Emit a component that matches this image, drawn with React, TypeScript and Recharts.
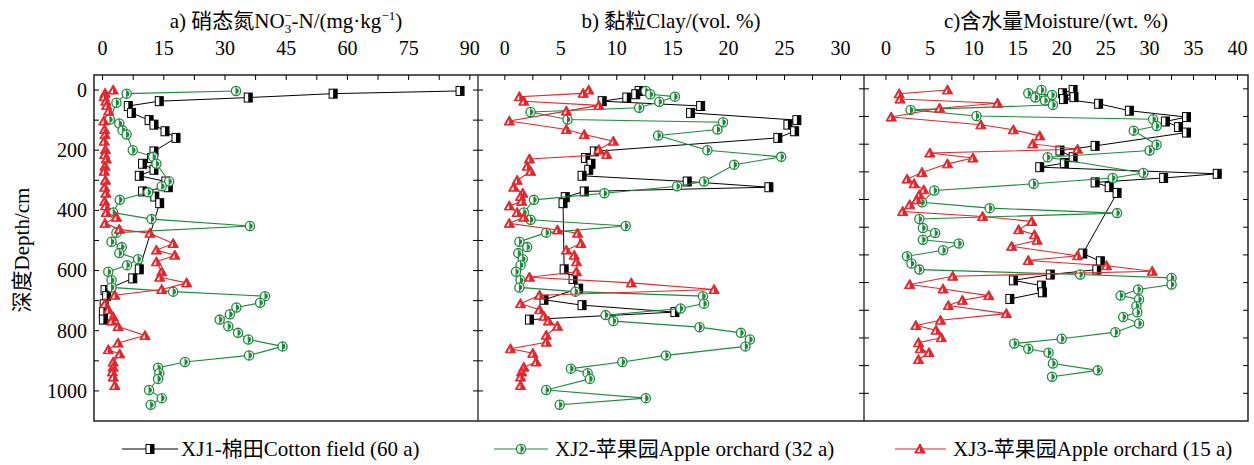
import React from 'react';
import { ScatterChart, Scatter, XAxis, YAxis } from 'recharts';

const FONT = "'Liberation Serif','Times New Roman','Noto Sans CJK SC',serif";
const BLACK = '#000000';
const GREEN = '#1c8a3c';
const RED = '#e6252c';

const W = 1254;
const H = 465;
const PLOT_TOP = 75;
const PLOT_BOTTOM = 421;
const TICK_LEN = 5;
const X_LABEL_Y = 55;
const TITLE_Y = 28;

// ---------- Panel a: NO3-N (mg/kg) ----------
const aXJ1Depth = [3, 12, 25, 37, 53, 76, 100, 115, 137, 159, 204, 226, 245, 265, 285, 304, 323, 337, 354, 376, 596, 626, 665, 685, 712, 738, 763];
const aXJ1 = [87.6, 56.5, 35.7, 13.9, 6.3, 7.1, 11.4, 12.6, 15.3, 18.0, 12.6, 12.0, 9.8, 12.6, 9.0, 15.5, 16.1, 9.8, 12.8, 14.0, 9.0, 7.4, 0.6, 1.0, 0.4, 0.2, 0.2];
const aXJ2Depth = [3, 12, 42, 98, 111, 134, 148, 200, 222, 245, 304, 320, 340, 365, 407, 429, 452, 474, 504, 522, 542, 562, 582, 604, 632, 656, 670, 685, 707, 723, 745, 763, 785, 807, 829, 852, 882, 904, 923, 941, 960, 997, 1024, 1046];
const aXJ2 = [32.7, 5.9, 3.4, 1.8, 4.1, 4.9, 5.9, 7.4, 12.4, 13.2, 16.3, 14.5, 11.2, 4.2, 2.6, 12.0, 36.1, 3.4, 2.2, 4.7, 4.1, 8.7, 6.0, 1.4, 2.2, 2.2, 17.3, 39.8, 38.6, 32.8, 31.2, 28.7, 30.8, 33.2, 35.7, 44.1, 35.9, 20.2, 13.6, 13.9, 13.6, 11.4, 14.5, 11.8];
const aXJ3Depth = [0, 11, 22, 37, 51, 70, 103, 131, 148, 170, 198, 214, 229, 253, 270, 300, 323, 343, 370, 385, 407, 423, 443, 463, 476, 510, 532, 549, 571, 604, 622, 641, 663, 682, 710, 730, 754, 768, 786, 816, 841, 863, 877, 904, 921, 937, 954, 982];
const aXJ3 = [2.6, 0.6, 0.4, 0.8, 1.0, 1.5, 0.3, 0.5, 0.6, 0.4, 0.7, 0.5, 0.9, 0.6, 0.4, 0.7, 0.5, 0.8, 0.5, 0.7, 0.9, 3.4, 0.6, 4.1, 11.6, 17.3, 13.2, 17.7, 13.2, 14.5, 14.0, 20.6, 14.5, 3.0, 0.6, 1.4, 2.6, 2.2, 3.8, 10.4, 3.8, 1.4, 4.2, 2.6, 2.6, 2.4, 2.6, 3.0];

// ---------- Panel b: Clay (vol. %) ----------
const bXJ1Depth = [3, 14, 25, 37, 53, 76, 100, 115, 137, 159, 204, 226, 245, 265, 285, 304, 323, 337, 356, 376, 596, 628, 660, 697, 715, 738, 763];
const bXJ1 = [12.0, 11.7, 10.9, 8.7, 17.5, 16.6, 26.1, 25.3, 25.9, 24.4, 8.0, 7.2, 7.7, 7.5, 6.9, 16.3, 23.6, 7.1, 5.4, 5.2, 5.3, 6.1, 6.6, 3.5, 6.9, 15.2, 2.2];
const bXJ2Depth = [3, 14, 22, 39, 59, 73, 98, 107, 131, 151, 200, 222, 248, 304, 320, 343, 365, 407, 431, 452, 474, 504, 522, 542, 562, 582, 604, 632, 656, 670, 685, 710, 726, 748, 768, 788, 807, 829, 852, 882, 904, 926, 941, 960, 997, 1024, 1046];
const bXJ2 = [12.6, 13.0, 15.2, 13.8, 12.0, 2.3, 5.6, 19.5, 19.0, 13.7, 18.1, 24.7, 20.5, 17.8, 15.4, 8.9, 2.6, 1.7, 2.3, 10.8, 3.7, 1.3, 2.0, 1.2, 1.6, 1.4, 1.0, 1.4, 1.3, 6.3, 17.7, 17.8, 15.7, 9.0, 9.7, 17.4, 21.1, 21.9, 21.5, 14.4, 10.5, 5.9, 7.4, 7.6, 3.7, 12.6, 4.9];
const bXJ3Depth = [0, 11, 22, 37, 51, 70, 103, 131, 148, 170, 198, 214, 229, 253, 270, 300, 323, 343, 354, 370, 385, 407, 423, 443, 465, 476, 510, 532, 549, 571, 604, 622, 641, 663, 682, 710, 730, 752, 768, 785, 815, 838, 860, 875, 904, 921, 937, 954, 982];
const bXJ3 = [7.5, 7.0, 1.3, 1.7, 8.4, 5.5, 0.4, 5.5, 7.1, 9.7, 8.4, 9.1, 2.2, 2.0, 2.3, 1.1, 0.8, 1.6, 1.4, 1.5, 0.4, 1.1, 1.7, 0.4, 4.7, 6.5, 6.8, 5.5, 6.2, 6.4, 6.4, 2.2, 11.3, 18.7, 3.1, 1.4, 3.1, 3.5, 3.9, 4.7, 3.7, 3.7, 0.5, 2.5, 2.8, 1.7, 1.5, 1.4, 1.4];

// ---------- Panel c: Moisture (wt. %) ----------
const cXJ1Depth = [4, 16, 30, 37, 54, 79, 102, 118, 138, 158, 206, 223, 247, 268, 283, 307, 322, 338, 355, 376, 595, 623, 653, 671, 692, 711, 735, 759];
const cXJ1 = [21.3, 20.1, 21.4, 20.2, 24.2, 27.7, 34.2, 31.8, 33.3, 34.2, 23.8, 19.8, 21.3, 20.3, 17.5, 37.7, 31.6, 23.8, 25.4, 26.3, 22.4, 24.4, 24.0, 18.7, 14.5, 17.7, 17.8, 14.1];
const cXJ2Depth = [4, 16, 22, 31, 42, 58, 76, 98, 110, 134, 151, 202, 223, 247, 304, 322, 343, 367, 410, 431, 449, 470, 503, 521, 545, 559, 583, 605, 631, 653, 671, 683, 707, 725, 747, 761, 785, 807, 824, 848, 879, 903, 920, 939, 953, 992, 1017, 1040];
const cXJ2 = [17.7, 16.2, 18.9, 17.0, 18.1, 19.0, 2.8, 10.3, 30.4, 30.8, 28.2, 30.8, 30.0, 18.4, 29.3, 25.8, 16.8, 5.5, 4.1, 11.8, 26.3, 3.8, 4.2, 5.6, 4.2, 8.3, 6.5, 2.4, 2.9, 3.8, 22.1, 32.5, 32.5, 28.7, 26.7, 28.8, 28.5, 28.6, 27.0, 28.8, 26.1, 20.0, 14.6, 16.2, 18.5, 19.0, 24.1, 18.9];
const cXJ3Depth = [4, 18, 37, 52, 70, 102, 130, 148, 170, 199, 218, 232, 250, 271, 302, 326, 343, 365, 383, 401, 419, 443, 461, 479, 509, 527, 547, 569, 603, 620, 639, 659, 677, 707, 723, 747, 764, 783, 812, 836, 855, 872, 899, 917, 939, 953, 978];
const cXJ3 = [7.0, 1.5, 1.6, 12.7, 6.1, 0.6, 10.8, 14.5, 17.5, 16.7, 21.8, 5.0, 9.9, 7.0, 4.1, 2.4, 3.2, 4.3, 3.8, 3.5, 2.7, 1.9, 11.0, 16.6, 15.1, 16.9, 17.2, 14.3, 21.8, 16.2, 25.1, 30.3, 7.6, 2.7, 6.5, 11.7, 8.7, 7.1, 13.7, 6.2, 3.4, 5.7, 6.3, 3.7, 3.9, 4.9, 3.7];

// ---------- Axis ticks ----------
const aXTicks = [0, 7.5, 15, 22.5, 30, 37.5, 45, 52.5, 60, 67.5, 75, 82.5, 90];
const aXLabels = [0, 15, 30, 45, 60, 75, 90];
const bXTicks = [0, 2.5, 5, 7.5, 10, 12.5, 15, 17.5, 20, 22.5, 25, 27.5, 30];
const bXLabels = [0, 5, 10, 15, 20, 25, 30];
const cXTicks = [0, 2.5, 5, 7.5, 10, 12.5, 15, 17.5, 20, 22.5, 25, 27.5, 30, 32.5, 35, 37.5, 40];
const cXLabels = [0, 5, 10, 15, 20, 25, 30, 35, 40];
const abDepthTicks = [0, 100, 200, 300, 400, 500, 600, 700, 800, 900, 1000];
const cDepthTicks = [0, 100, 200, 300, 400, 500, 600, 700, 800, 900, 1000, 1100];
const depthLabels = [0, 200, 400, 600, 800, 1000];

const titles = ['a)', 'b) 黏粒Clay/(vol. %)', 'c)含水量Moisture/(wt. %)'];
const legendNames = ['XJ1-棉田Cotton field (60 a)', 'XJ2-苹果园Apple orchard (32 a)', 'XJ3-苹果园Apple orchard (15 a)'];

const zip = (d: number[], v: number[]) => d.map((dep, i) => ({ x: v[i], y: dep }));

// ---------- Markers ----------
const SquareMark = ({ cx, cy }: { cx: number; cy: number }) => (
  <g>
    <rect x={cx - 4} y={cy - 4.5} width={8} height={9} fill="#fff" stroke={BLACK} strokeWidth={1} />
    <rect x={cx} y={cy - 4.5} width={4} height={9} fill={BLACK} />
  </g>
);
const CircleMark = ({ cx, cy }: { cx: number; cy: number }) => (
  <g>
    <circle cx={cx} cy={cy} r={4.6} fill="#fff" stroke={GREEN} strokeWidth={1.3} />
    <path d={`M${cx},${cy - 2.8} A2.8,2.8 0 0 1 ${cx},${cy + 2.8} Z`} fill={GREEN} />
    <line x1={cx} x2={cx} y1={cy - 4.6} y2={cy + 4.6} stroke={GREEN} strokeWidth={1} />
  </g>
);
const TriMark = ({ cx, cy }: { cx: number; cy: number }) => (
  <g>
    <polygon points={`${cx},${cy - 5.2} ${cx - 5.2},${cy + 4} ${cx + 5.2},${cy + 4}`} fill={RED} stroke={RED} strokeWidth={1} strokeLinejoin="miter" />
    <polygon points={`${cx - 0.2},${cy - 1.5} ${cx - 3},${cy + 3} ${cx - 0.2},${cy + 3}`} fill="#fff" />
  </g>
);

type PanelProps = {
  left: number;
  right: number;
  xDomain: [number, number];
  xTicks: number[];
  xLabels: number[];
  yDomain: [number, number];
  yTicks: number[];
  showYLabels: boolean;
  leftTickBoth: boolean;
  rightTicks: boolean;
  s1: { x: number; y: number }[];
  s2: { x: number; y: number }[];
  s3: { x: number; y: number }[];
};

const Panel = (p: PanelProps) => {
  const XTick = (props: any) => {
    const { x, payload } = props;
    const v = payload.value;
    return (
      <g>
        <line x1={x} x2={x} y1={PLOT_TOP} y2={PLOT_TOP + TICK_LEN} stroke="#000" strokeWidth={1} />
        {p.xLabels.includes(v) && (
          <text x={x} y={X_LABEL_Y} textAnchor="middle" fontFamily={FONT} fontSize={20} fill="#000">
            {v}
          </text>
        )}
      </g>
    );
  };
  const YTick = (props: any) => {
    const { y, payload } = props;
    const v = payload.value;
    return (
      <g>
        <line x1={p.leftTickBoth ? p.left - TICK_LEN : p.left} x2={p.left + TICK_LEN} y1={y} y2={y} stroke="#000" strokeWidth={1} />
        {p.rightTicks && <line x1={p.right - TICK_LEN} x2={p.right} y1={y} y2={y} stroke="#000" strokeWidth={1} />}
        {p.showYLabels && depthLabels.includes(v) && (
          <text x={p.left - 7} y={y} dy="0.34em" textAnchor="end" fontFamily={FONT} fontSize={20} fill="#000">
            {v}
          </text>
        )}
      </g>
    );
  };
  return (
    <div style={{ position: 'absolute', left: 0, top: 0 }}>
      <ScatterChart
        width={W}
        height={H}
        margin={{ top: PLOT_TOP - 1, bottom: H - PLOT_BOTTOM, left: p.left - 1, right: W - p.right }}
      >
        <XAxis
          type="number"
          dataKey="x"
          orientation="top"
          domain={p.xDomain}
          allowDataOverflow
          ticks={p.xTicks}
          interval={0}
          height={1}
          axisLine={false}
          tickLine={false}
          tick={XTick}
        />
        <YAxis
          type="number"
          dataKey="y"
          reversed
          domain={p.yDomain}
          allowDataOverflow
          ticks={p.yTicks}
          interval={0}
          width={1}
          axisLine={false}
          tickLine={false}
          tick={YTick}
        />
        <Scatter data={p.s1} line={{ stroke: BLACK, strokeWidth: 1 }} lineType="joint" isAnimationActive={false}
          shape={(sp: any) => <SquareMark cx={sp.cx} cy={sp.cy} />} />
        <Scatter data={p.s2} line={{ stroke: GREEN, strokeWidth: 1.1 }} lineType="joint" isAnimationActive={false}
          shape={(sp: any) => <CircleMark cx={sp.cx} cy={sp.cy} />} />
        <Scatter data={p.s3} line={{ stroke: RED, strokeWidth: 1.1 }} lineType="joint" isAnimationActive={false}
          shape={(sp: any) => <TriMark cx={sp.cx} cy={sp.cy} />} />
      </ScatterChart>
    </div>
  );
};

const PANEL_EDGES = [94, 478, 864, 1248];

export default function App() {
  return (
    <div style={{ position: 'absolute', left: 0, top: 0, width: W, height: H, background: '#fff', overflow: 'hidden' }}>
      <svg width={W} height={H} style={{ position: 'absolute', left: 0, top: 0 }}>
        <rect x={PANEL_EDGES[0]} y={PLOT_TOP} width={PANEL_EDGES[3] - PANEL_EDGES[0]} height={PLOT_BOTTOM - PLOT_TOP}
          fill="none" stroke="#222" strokeWidth={1.5} />
        <line x1={PANEL_EDGES[1]} x2={PANEL_EDGES[1]} y1={PLOT_TOP} y2={PLOT_BOTTOM} stroke="#222" strokeWidth={1.3} />
        <line x1={PANEL_EDGES[2]} x2={PANEL_EDGES[2]} y1={PLOT_TOP} y2={PLOT_BOTTOM} stroke="#222" strokeWidth={1.3} />
        {/* titles */}
        <text x={(PANEL_EDGES[0] + PANEL_EDGES[1]) / 2} y={TITLE_Y} textAnchor="middle" fontFamily={FONT} fontSize={21} fill="#000">
          {titles[0]} 硝态氮NO<tspan dy={5} fontSize={13}>3</tspan>
          <tspan dx={-7} dy={-13} fontSize={13}>−</tspan>
          <tspan dy={8}>-N/(mg·kg</tspan>
          <tspan dy={-8} fontSize={13}>−1</tspan>
          <tspan dy={8}>)</tspan>
        </text>
        <text x={(PANEL_EDGES[1] + PANEL_EDGES[2]) / 2} y={TITLE_Y} textAnchor="middle" fontFamily={FONT} fontSize={21} fill="#000">
          {titles[1]}
        </text>
        <text x={(PANEL_EDGES[2] + PANEL_EDGES[3]) / 2} y={TITLE_Y} textAnchor="middle" fontFamily={FONT} fontSize={21} fill="#000">
          {titles[2]}
        </text>
        {/* y axis title */}
        <text x={22} y={250} transform="rotate(-90, 22, 250)" textAnchor="middle" dominantBaseline="central" fontFamily={FONT} fontSize={21} fill="#000">
          深度Depth/cm
        </text>
        {/* legend */}
        <g>
          <line x1={122} x2={178} y1={449} y2={449} stroke={BLACK} strokeWidth={1.2} />
          <SquareMark cx={150} cy={449} />
          <text x={181} y={456} fontFamily={FONT} fontSize={21} fill="#000">{legendNames[0]}</text>
          <line x1={494} x2={548} y1={449} y2={449} stroke={GREEN} strokeWidth={1.2} />
          <CircleMark cx={521} cy={449} />
          <text x={555} y={456} fontFamily={FONT} fontSize={21} fill="#000">{legendNames[1]}</text>
          <line x1={895} x2={946} y1={449} y2={449} stroke={RED} strokeWidth={1.2} />
          <TriMark cx={920} cy={449} />
          <text x={953} y={456} fontFamily={FONT} fontSize={21} fill="#000">{legendNames[2]}</text>
        </g>
      </svg>
      <Panel left={94} right={478} xDomain={[-2.1, 92]} xTicks={aXTicks} xLabels={aXLabels}
        yDomain={[-50, 1100]} yTicks={abDepthTicks} showYLabels leftTickBoth={false} rightTicks
        s1={zip(aXJ1Depth, aXJ1)} s2={zip(aXJ2Depth, aXJ2)} s3={zip(aXJ3Depth, aXJ3)} />
      <Panel left={478} right={864} xDomain={[-2.4, 32.1]} xTicks={bXTicks} xLabels={bXLabels}
        yDomain={[-50, 1100]} yTicks={abDepthTicks} showYLabels={false} leftTickBoth={false} rightTicks={false}
        s1={zip(bXJ1Depth, bXJ1)} s2={zip(bXJ2Depth, bXJ2)} s3={zip(bXJ3Depth, bXJ3)} />
      <Panel left={864} right={1248} xDomain={[-2.5, 41.2]} xTicks={cXTicks} xLabels={cXLabels}
        yDomain={[-50, 1200]} yTicks={cDepthTicks} showYLabels={false} leftTickBoth rightTicks
        s1={zip(cXJ1Depth, cXJ1)} s2={zip(cXJ2Depth, cXJ2)} s3={zip(cXJ3Depth, cXJ3)} />
    </div>
  );
}
